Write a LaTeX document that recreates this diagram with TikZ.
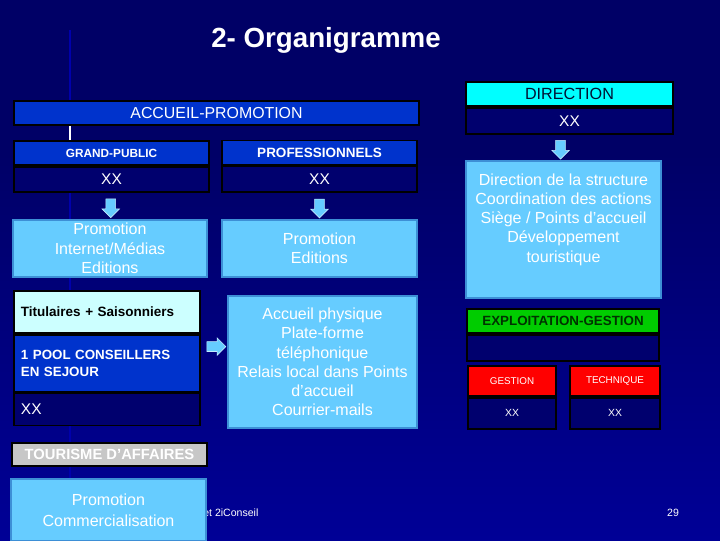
\documentclass[tikz,border=0pt]{standalone}
\usepackage{fontspec}
\setmainfont{Liberation Sans}
\usetikzlibrary{positioning,shapes.arrows,calc}

\definecolor{navy}{HTML}{000066}
\definecolor{bgblue}{HTML}{000096}
\definecolor{boxnavy}{HTML}{00006E}
\definecolor{midblue}{HTML}{0033CC}
\definecolor{skyblue}{HTML}{66CCFF}
\definecolor{skyedge}{HTML}{3D8FD6}
\definecolor{lightcyan}{HTML}{CCFFFF}
\definecolor{brightcyan}{HTML}{00FFFF}
\definecolor{greenhead}{HTML}{00CC00}
\definecolor{darkgreen}{HTML}{003300}
\definecolor{dirtext}{HTML}{001133}

\tikzset{
  box/.style={rectangle, draw=black, line width=1.2pt, inner sep=0pt, minimum height=0.6cm},
  darkbox/.style={box, fill=boxnavy, text=white},
  headbox/.style={box, fill=midblue, text=white},
  lightbox/.style={rectangle, draw=skyedge, line width=1.5pt, fill=skyblue, text=white,
    align=center, inner sep=0pt, font=\fontsize{11.4}{13.7}\selectfont},
  blockarrow/.style={single arrow, draw=white!60!skyblue, line width=0.4pt, fill=skyblue,
    minimum height=0.47cm, inner sep=3.3pt, single arrow head extend=2.7pt}
}

\begin{document}
\begin{tikzpicture}[x=0.025cm,y=-0.025cm]
% background
\fill[navy] (0,0) rectangle (720,540);
\shade[top color=navy, bottom color=bgblue] (0,145) rectangle (720,540);
\draw[blue!45!navy, line width=0.8pt] (70,30) -- (70,540);
\useasboundingbox (0,0) rectangle (720,540);

\node[text=white, font=\bfseries\fontsize{19.7}{23}\selectfont] (title) at (326,40) {2- Organigramme};

% direction
\node[box, fill=brightcyan, text=dirtext, minimum width=5.175cm, font=\fontsize{11.5}{13}\selectfont] (direction) at (569.5,94) {DIRECTION};
\node[darkbox, minimum width=5.175cm, minimum height=0.65cm, below=0pt of direction, font=\fontsize{11}{13}\selectfont] (dirxx) {XX};
\node[lightbox, minimum width=4.875cm, minimum height=3.425cm] (dirbox) at (563.5,229.5) {};
\node[text=white, align=center, font=\fontsize{11.4}{13.7}\selectfont] (dirtext) at ($(dirbox.center)+(0,-10)$) {Direction de la structure\\Coordination des actions\\Siège / Points d’accueil\\Développement\\touristique};

% accueil-promotion
\node[headbox, minimum width=10.125cm, font=\fontsize{11.3}{13}\selectfont] (accueil) at (216.5,113) {ACCUEIL-PROMOTION};
\node[headbox, minimum width=4.875cm, font=\bfseries\fontsize{8.4}{10}\selectfont] (grandpublic) at (111.5,153) {GRAND-PUBLIC};
\node[darkbox, minimum width=4.875cm, minimum height=0.625cm, below=0pt of grandpublic, font=\fontsize{11}{13}\selectfont] (gpxx) {XX};
\node[headbox, minimum width=4.875cm, font=\bfseries\fontsize{9.6}{11}\selectfont] (pro) at (319.5,152.5) {PROFESSIONNELS};
\node[darkbox, minimum width=4.875cm, minimum height=0.65cm, below=0pt of pro, font=\fontsize{11}{13}\selectfont] (proxx) {XX};
\draw[white, line width=0.8pt] (accueil.south -| 70,0) -- (grandpublic.north -| 70,0);

\node[lightbox, minimum width=4.85cm, minimum height=1.425cm] (gppromo) at (110,248.5) {Promotion\\Internet/Médias\\Editions};
\node[lightbox, minimum width=4.875cm, minimum height=1.425cm] (propromo) at (319.5,248.5) {Promotion\\Editions};

% conseillers
\node[box, fill=lightcyan, text=black, minimum width=4.65cm, minimum height=1.05cm, text width=4.3cm, align=left, font=\bfseries\fontsize{9.6}{11.5}\selectfont] (titulaires) at (107,312) {Titulaires + Saisonniers};
\node[headbox, minimum width=4.65cm, minimum height=1.425cm, text width=4.3cm, align=left, below=0pt of titulaires, font=\bfseries\fontsize{9.5}{12}\selectfont] (pool) {1 POOL CONSEILLERS\\EN SEJOUR};
\node[darkbox, minimum width=4.65cm, minimum height=0.8cm, text width=4.3cm, align=left, below=0pt of pool, font=\fontsize{11}{13}\selectfont] (poolxx) {XX};
\node[lightbox, minimum width=4.725cm, minimum height=3.3cm] (physique) at (322.5,362) {Accueil physique\\Plate-forme\\téléphonique\\Relais local dans Points\\d’accueil\\Courrier-mails};

% exploitation
\node[box, fill=greenhead, text=darkgreen, minimum width=4.8cm, font=\bfseries\fontsize{9.5}{11}\selectfont] (exploit) at (563,321) {EXPLOITATION-GESTION};
\node[darkbox, minimum width=4.8cm, minimum height=0.65cm, below=0pt of exploit] (exploitxx) {};
\node[box, fill=red, text=white, minimum width=2.2cm, minimum height=0.75cm, font=\fontsize{7}{8}\selectfont] (gestion) at (512,381) {GESTION};
\node[darkbox, minimum width=2.2cm, minimum height=0.775cm, below=0pt of gestion, font=\fontsize{7.4}{9}\selectfont] (gestionxx) {XX};
\node[box, fill=red, text=white, minimum width=2.25cm, minimum height=0.75cm, font=\fontsize{7}{8}\selectfont] (technique) at (615,381) {TECHNIQUE};
\node[darkbox, minimum width=2.25cm, minimum height=0.775cm, below=0pt of technique, font=\fontsize{7.4}{9}\selectfont] (techniquexx) {XX};

% tourisme d'affaires
\node[box, fill=black!22, text=white, minimum width=4.875cm, minimum height=0.575cm, font=\bfseries\fontsize{10.5}{12}\selectfont] (tourisme) at (109.5,454.5) {TOURISME D'AFFAIRES};
\node[text=white, anchor=west, inner sep=0pt, font=\fontsize{7.5}{9}\selectfont] (footer) at (203,513) {et 2iConseil};
\node[text=white, inner sep=0pt, font=\fontsize{7.5}{9}\selectfont] (pagenum) at (673,513) {29};
\node[lightbox, minimum width=4.875cm, minimum height=1.55cm, font=\fontsize{11.4}{15}\selectfont] (tourpromo) at (108.5,510) {Promotion\\Commercialisation};

% arrows
\node[blockarrow, shape border rotate=270] (arrgp) at ($(gpxx.south)!.5!(gppromo.north)$) {};
\node[blockarrow, shape border rotate=270] (arrpro) at ($(proxx.south)!.5!(propromo.north)$) {};
\node[blockarrow, shape border rotate=270, xshift=-0.15cm] (arrdir) at ($(dirxx.south)!.5!(dirbox.north)$) {};
\node[blockarrow, yshift=0.4cm] (arrpool) at ($(pool.east)!.5!(physique.west)$) {};
\end{tikzpicture}
\end{document}
